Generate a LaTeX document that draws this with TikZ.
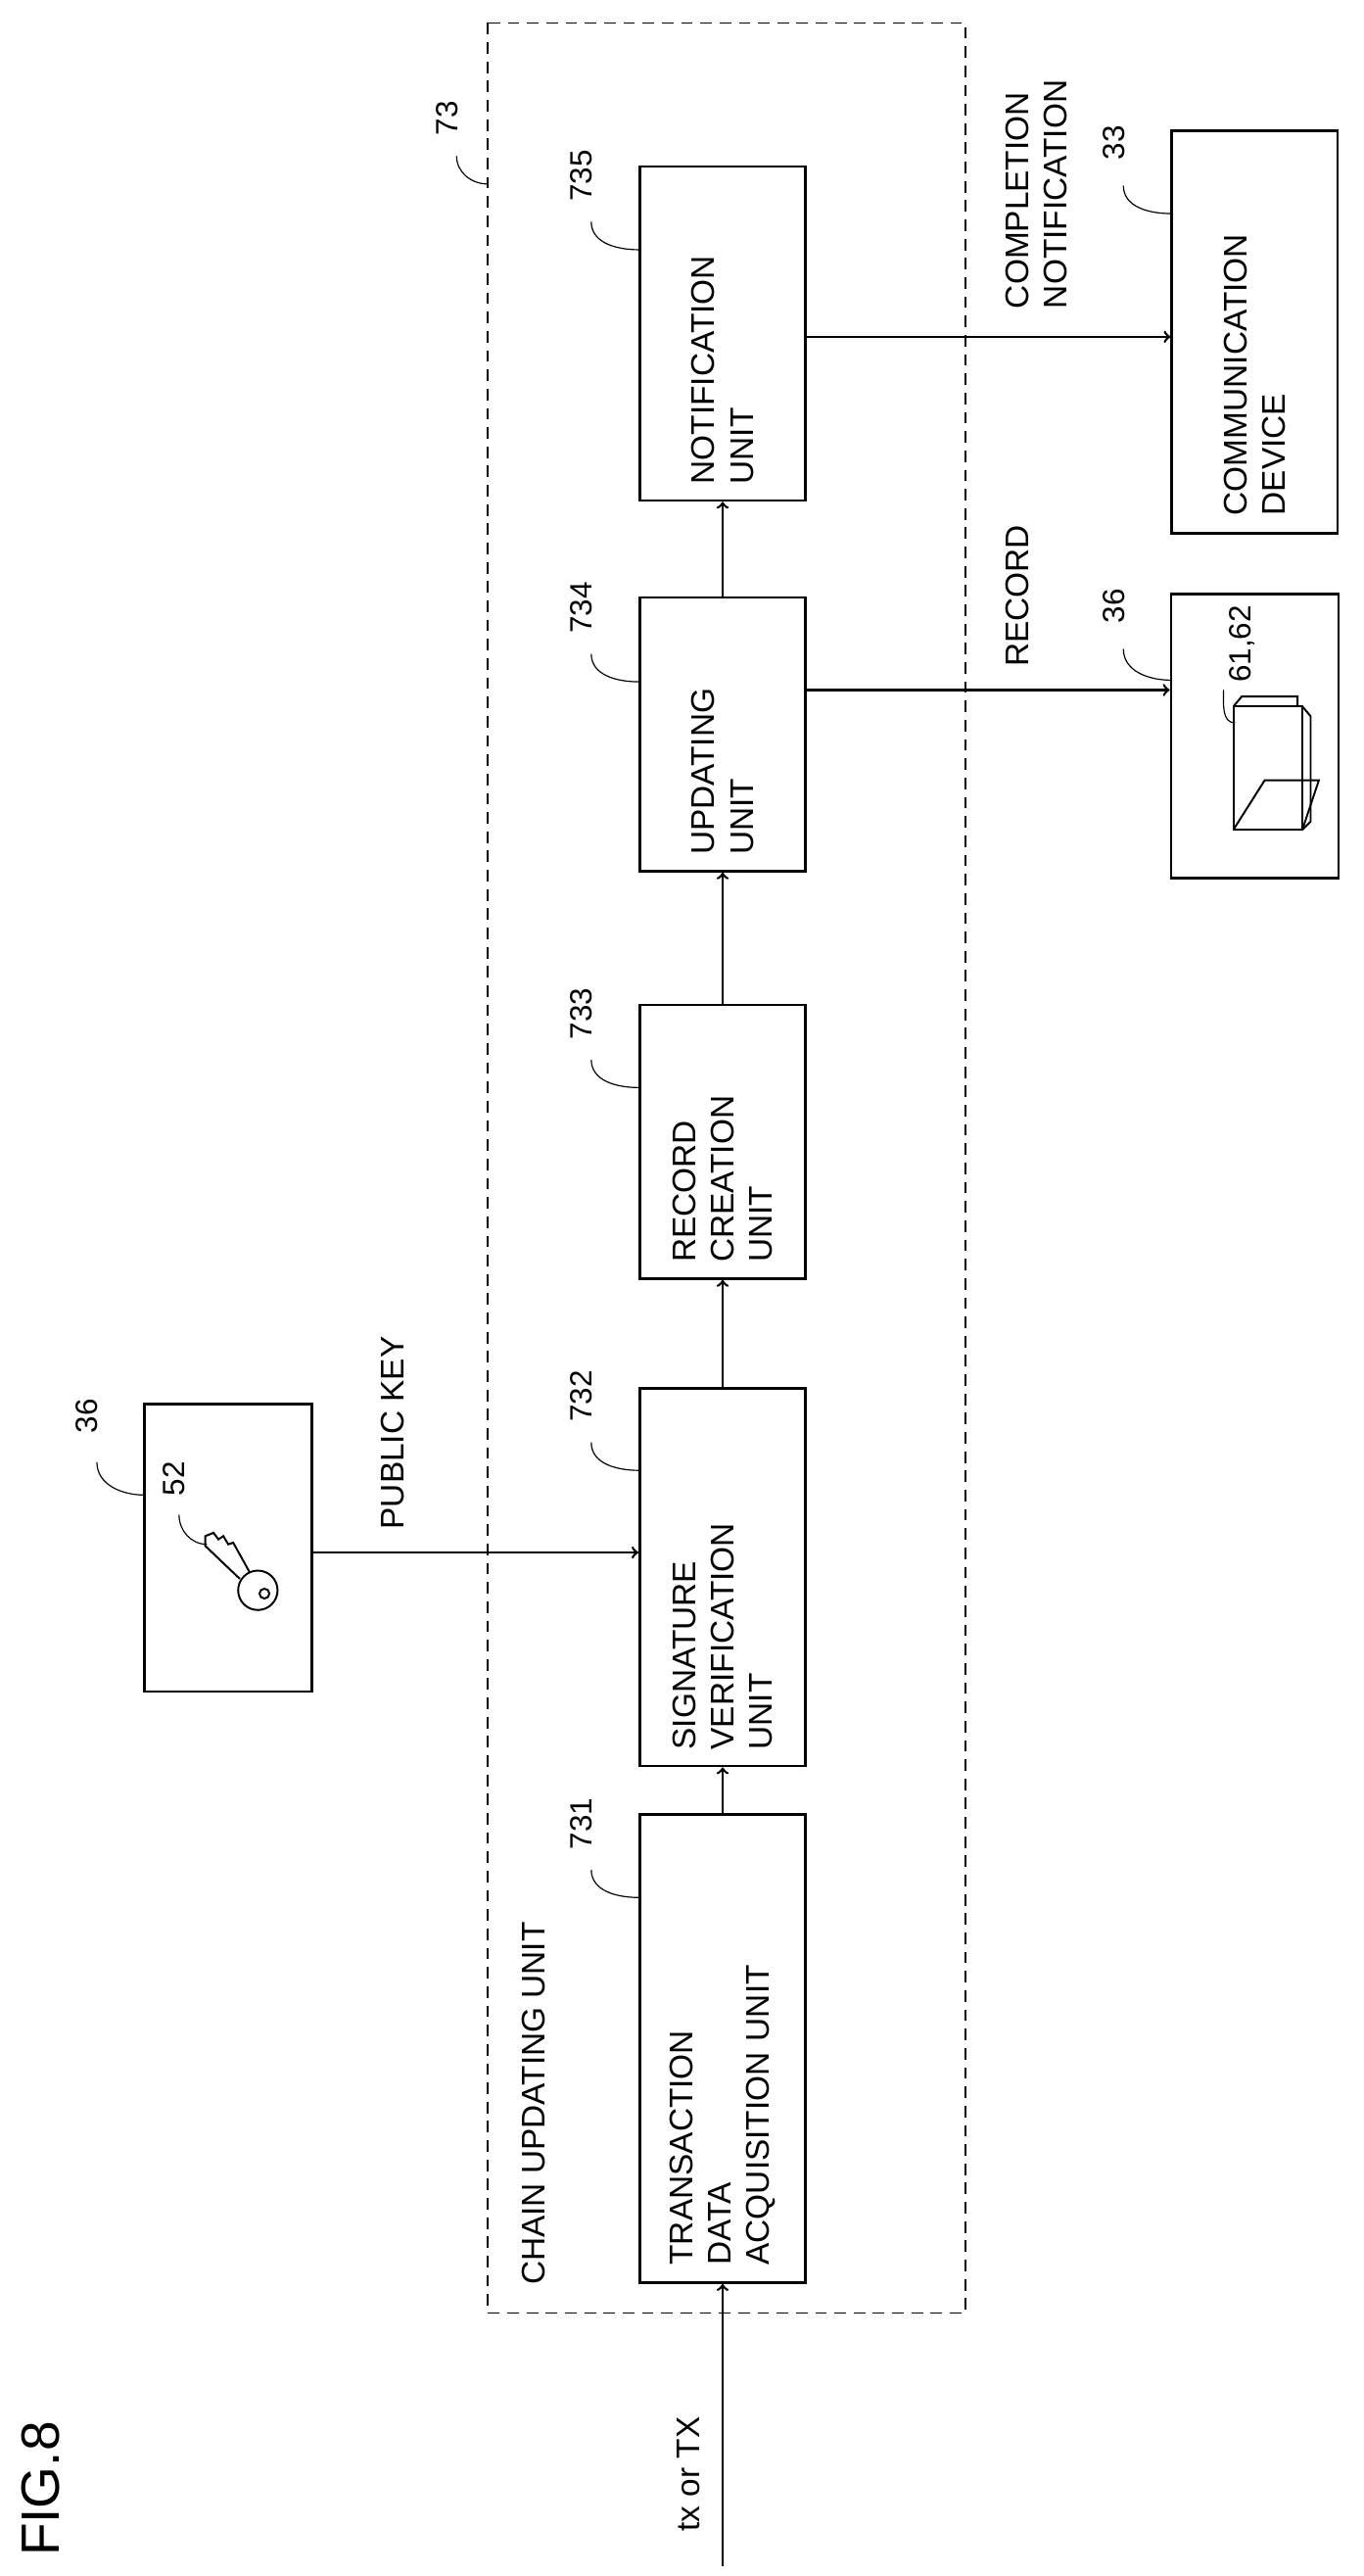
\documentclass[tikz,border=0pt]{standalone}
\usepackage{fontspec}
\setmainfont{Liberation Sans}
\usetikzlibrary{positioning}
\tikzset{
  unit/.style={draw, line width=1.3pt, rotate=90, align=left, inner sep=0.3cm, minimum height=3.03cm, font=\fontsize{17}{20}\selectfont},
  lbl/.style={rotate=90, font=\fontsize{17}{20}\selectfont},
  refno/.style={rotate=90, font=\fontsize{16}{19}\selectfont},
  flow/.style={->, line width=1.3pt},
  lead/.style={line width=0.6pt}
}
\begin{document}
\begin{tikzpicture}[x=0.03cm, y=-0.03cm]
    \useasboundingbox (0,0) rectangle (830,1568);
    % Chain updating unit frame
    \draw[line width=0.8pt, dash pattern=on 6pt off 4pt] (297,14) rectangle (588,1408);
    \node[lbl, anchor=north west] (chain) at (314,1395) {CHAIN UPDATING UNIT};
    % Units
    \node[unit, minimum width=8.55cm, text width=7.9cm] (u731) at (440,1247) {TRANSACTION\\DATA\\ACQUISITION UNIT};
    \node[unit, minimum width=6.9cm, text width=6.3cm] (u732) at (440,960) {SIGNATURE\\VERIFICATION\\UNIT};
    \node[unit, minimum width=4.98cm, text width=4.4cm] (u733) at (440,695) {RECORD\\CREATION\\UNIT};
    \node[unit, minimum width=4.95cm, text width=4.4cm] (u734) at (440,447) {UPDATING\\UNIT};
    \node[unit, minimum width=6.09cm, text width=5.5cm] (u735) at (440,203) {NOTIFICATION\\UNIT};
    % External devices
    \node[draw, line width=1.3pt, rotate=90, minimum width=5.25cm, minimum height=3.06cm] (keybox) at (139,942) {};
    \node[draw, line width=1.3pt, rotate=90, minimum width=5.19cm, minimum height=3.06cm] (recbox) at (764,448) {};
    \node[unit, minimum width=7.35cm, text width=6.7cm] (comm) at (764,202) {COMMUNICATION\\DEVICE};
    % Key icon
    \draw[line width=1pt] (157,968) circle (12);
    \draw[line width=1pt] (161,970) circle (3);
    \draw[line width=1pt] (146,961) -- (125,941) -- (125,935) -- (130,933) -- (133,937) -- (136,935) -- (139,940) -- (142,939) -- (152,957);
    % Folder icon
    \draw[line width=1pt] (751,430) -- (751,505) -- (793,505) -- (793,430) -- cycle;
    \draw[line width=1pt] (793,430) -- (798,436) -- (798,500) -- (793,505);
    \draw[line width=1pt] (751,430) -- (756,424) -- (790,424) -- (790,430);
    \draw[line width=1pt] (751,505) -- (770,475) -- (803,475) -- (793,505);
    % Reference numbers
    \node[refno] (n73) at (272,72) {73};
    \coordinate (c73) at (297,112);
    \draw[lead] (278,95) to[out=-90, in=180] (c73);
    \node[refno] (n735) at (354,107) {735};
    \coordinate (c735) at (389,152);
    \draw[lead] (360,135) to[out=-90, in=180] (c735);
    \node[refno] (n734) at (354,370) {734};
    \coordinate (c734) at (389,415);
    \draw[lead] (360,398) to[out=-90, in=180] (c734);
    \node[refno] (n733) at (354,617) {733};
    \coordinate (c733) at (389,662);
    \draw[lead] (360,645) to[out=-90, in=180] (c733);
    \node[refno] (n732) at (354,850) {732};
    \coordinate (c732) at (389,895);
    \draw[lead] (360,878) to[out=-90, in=180] (c732);
    \node[refno] (n731) at (354,1110) {731};
    \coordinate (c731) at (389,1155);
    \draw[lead] (360,1138) to[out=-90, in=180] (c731);
    \node[refno] (n36a) at (53,862) {36};
    \coordinate (c36a) at (88,910);
    \draw[lead] (59,890) to[out=-90, in=180] (c36a);
    \node[refno] (n52) at (106,900) {52};
    \coordinate (c52) at (126,940);
    \draw[lead] (109,922) to[out=-90, in=180] (c52);
    \node[refno] (n36b) at (678,369) {36};
    \coordinate (c36b) at (713,414);
    \draw[lead] (684,395) to[out=-90, in=180] (c36b);
    \node[refno] (n6162) at (756,392) {61,62};
    \coordinate (c6162) at (752,440);
    \draw[lead] (745,420) to[out=-90, in=180] (c6162);
    \node[refno] (n33) at (678,87) {33};
    \coordinate (c33) at (713,130);
    \draw[lead] (684,113) to[out=-90, in=180] (c33);
    % Flow
    \coordinate (txin) at (440,1562);
    \node[lbl, anchor=north west] (txlbl) at (408,1545) {tx or TX};
    \draw[flow] (txin) -- (u731.west);
    \draw[flow] (u731.east) -- (u732.west);
    \draw[flow] (u732.east) -- (u733.west);
    \draw[flow] (u733.east) -- (u734.west);
    \draw[flow] (u734.east) -- (u735.west);
    \coordinate (keyy) at (0,945);
    \draw[flow] (keybox.south |- keyy) -- (u732.north |- keyy);
    \node[lbl, anchor=north west] (pubkey) at (228,935) {PUBLIC KEY};
    \coordinate (recy) at (0,420);
    \draw[flow] (u734.south |- recy) -- (recbox.north |- recy);
    \node[lbl, anchor=north west] (reclbl) at (608,410) {RECORD};
    \coordinate (compy) at (0,205);
    \draw[flow] (u735.south |- compy) -- (comm.north |- compy);
    \node[lbl, anchor=north west, align=left] (complbl) at (608,192) {COMPLETION\\NOTIFICATION};
    % Figure label
    \node[rotate=90, font=\fontsize{28}{32}\selectfont] (fig) at (25,1515) {FIG.8};
\end{tikzpicture}
\end{document}
